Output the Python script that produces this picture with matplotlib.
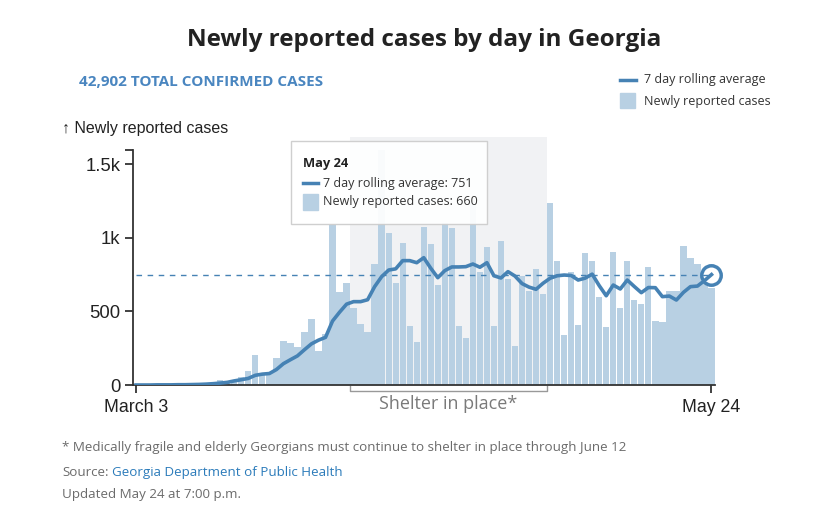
# Newly reported COVID-19 cases by day in Georgia, March 3 - May 24
import matplotlib
matplotlib.use('Agg')
import matplotlib.pyplot as plt
import matplotlib.dates as mdates
from matplotlib.patches import Rectangle
from matplotlib.lines import Line2D
import pandas as pd

# data
days = pd.date_range('2020-03-03', '2020-05-24', freq='D')
new_cases = [1, 0, 0, 3, 1, 4, 5, 4, 3, 8, 5, 16, 34, 20,
             22, 52, 97, 204, 68, 80, 182, 299, 288, 256, 363, 447, 234, 345,
             1085, 630, 692, 522, 415, 363, 821, 1599, 1032, 696, 968, 404, 290,
             1075, 959, 680, 1100, 1066, 404, 317, 1228, 767, 940, 404, 980, 724,
             267, 741, 642, 789, 617, 1236, 844, 340, 770, 405, 896, 844, 596,
             397, 906, 524, 844, 575, 552, 800, 436, 426, 639, 637, 947, 863,
             821, 700, 660]
rolling_avg = [0, 0, 0, 1, 1, 1, 2, 2, 3, 4, 6, 9, 13, 18,
               28, 36, 45, 66, 74, 78, 105, 145, 172, 198, 240, 280, 305, 324,
               435, 495, 550, 567, 567, 580, 669, 737, 782, 790, 846, 846, 832,
               866, 794, 730, 778, 803, 803, 805, 823, 801, 832, 743, 728, 771,
               741, 690, 666, 651, 692, 726, 743, 748, 745, 714, 727, 754, 676,
               607, 680, 653, 714, 670, 628, 663, 662, 601, 605, 578, 630, 669,
               673, 710, 751]
shelter_start = '2020-04-03'
shelter_end = '2020-04-30'
y_ticks = [0, 500, 1000, 1500, 1600]
y_ticklabels = ['0', '500', '1k', '1.5k', '']
x_ticklabels = ['March 3', 'May 24']

# colours
bar_color = '#b8d0e3'
line_color = '#4682b4'
shade_color = '#f1f2f4'
text_dark = '#222222'
text_grey = '#6b6b6b'

W, H = 817, 508


def fx(x):
    return x / W


def fy(y):
    return 1 - y / H


plt.rcParams['font.family'] = ['Open Sans', 'DejaVu Sans']

fig = plt.figure(figsize=(W / 100, H / 100), dpi=100)
ax = fig.add_axes([fx(133), fy(385), fx(715) - fx(133), fy(137) - fy(385)])

x = mdates.date2num(days)

# shelter in place shading
s0 = mdates.date2num(pd.Timestamp(shelter_start)) - 0.5
s1 = mdates.date2num(pd.Timestamp(shelter_end)) + 0.5
ax.axvspan(s0, s1, color=shade_color, zorder=0, lw=0)

ax.bar(x, new_cases, width=0.9, color=bar_color, zorder=1, lw=0)
ax.plot(x, rolling_avg, color=line_color, lw=2.6, zorder=3, solid_joinstyle='round')
ax.plot([x[0], x[-1]], [rolling_avg[-1], rolling_avg[-1]], color=line_color,
        lw=1, ls=(0, (4, 4)), zorder=2)
ax.plot(x[-1], rolling_avg[-1], 'o', ms=14, mfc='none', mec=line_color, mew=2.5,
        zorder=4, clip_on=False)

ax.set_xlim(x[0] - 0.43, x[-1] + 0.5)
ax.set_ylim(0, 1687)

for side in ['top', 'right']:
    ax.spines[side].set_visible(False)
ax.spines['left'].set_bounds(0, 1600)
ax.spines['left'].set_color('#333333')
ax.spines['bottom'].set_color('#333333')
ax.spines['left'].set_linewidth(1.3)
ax.spines['bottom'].set_linewidth(1.3)

ax.set_yticks(y_ticks)
ax.set_yticklabels(y_ticklabels, fontsize=13.3, family='Liberation Sans', color=text_dark)
ax.set_xticks([x[0], x[-1]])
ax.set_xticklabels(x_ticklabels, fontsize=12.8, family='Liberation Sans', color=text_dark)
ax.tick_params(axis='both', length=6, width=1.3, color='#333333')
ax.tick_params(axis='y', pad=3)
ax.tick_params(axis='x', pad=4)

# shelter in place bracket below axis
ax.plot([s0, s0, s1, s1], [-10, -40, -40, -10], color='#999999', lw=1, clip_on=False)
ax.text((s0 + s1) / 2, -128, 'Shelter in place*', ha='center', va='center',
        fontsize=13, color='#7a7a7a')

# title and header texts
fig.text(fx(424), fy(40), 'Newly reported cases by day in Georgia', ha='center',
         va='center', fontsize=17.5, fontweight='bold', color=text_dark)
fig.text(fx(79), fy(82), '42,902 TOTAL CONFIRMED CASES', ha='left', va='center',
         fontsize=11, fontweight='bold', color='#4a86c0')
fig.text(fx(62), fy(129), '\u2191 Newly reported cases', ha='left', va='center',
         fontsize=11.5, color=text_dark, family='Liberation Sans')

# legend
fig.lines.append(Line2D([fx(620), fx(636)], [fy(80), fy(80)], color=line_color, lw=2.5,
                        transform=fig.transFigure))
fig.patches.append(Rectangle((fx(620), fy(108)), fx(15), 15 / H, color=bar_color,
                             transform=fig.transFigure))
fig.text(fx(644), fy(80), '7 day rolling average', va='center', fontsize=9, color='#333333')
fig.text(fx(644), fy(101), 'Newly reported cases', va='center', fontsize=9, color='#333333')

# tooltip
fig.patches.append(Rectangle((fx(291), fy(224)), fx(196), 83 / H, facecolor='white',
                             edgecolor='#cccccc', lw=1, alpha=0.93, zorder=5,
                             transform=fig.transFigure))
fig.text(fx(303), fy(163), 'May 24', va='center', fontsize=9.3, fontweight='bold',
         color=text_dark, zorder=6)
fig.lines.append(Line2D([fx(303), fx(318)], [fy(183), fy(183)], color=line_color, lw=2.5,
                        transform=fig.transFigure, zorder=6))
fig.patches.append(Rectangle((fx(303), fy(210)), fx(15), 16 / H, color=bar_color,
                             transform=fig.transFigure, zorder=6))
fig.text(fx(323), fy(183), '7 day rolling average: %d' % rolling_avg[-1], va='center',
         fontsize=9, color='#333333', zorder=6)
fig.text(fx(323), fy(202), 'Newly reported cases: %d' % new_cases[-1], va='center',
         fontsize=9, color='#333333', zorder=6)

# footnotes
fig.text(fx(62), fy(451), '* Medically fragile and elderly Georgians must continue to shelter '
         'in place through June 12', va='baseline', fontsize=9.6, color=text_grey)
fig.text(fx(62), fy(476), 'Source:', va='baseline', fontsize=9.6, color=text_grey)
fig.text(fx(112), fy(476), 'Georgia Department of Public Health', va='baseline',
         fontsize=9.6, color='#2b7bba')
fig.text(fx(62), fy(498), 'Updated May 24 at 7:00 p.m.', va='baseline', fontsize=9.6,
         color=text_grey)

fig.savefig('out.png', dpi=100)
